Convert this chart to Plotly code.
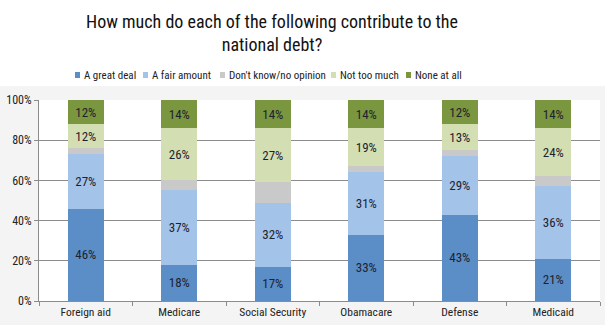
import plotly.graph_objects as go

# Survey results: share of respondents per answer, by budget item
categories = ["Foreign aid", "Medicare", "Social Security", "Obamacare", "Defense", "Medicaid"]
great_deal = [46, 18, 17, 33, 43, 21]
fair_amount = [27, 37, 32, 31, 29, 36]
dont_know = [3, 5, 10, 3, 3, 5]
not_too_much = [12, 26, 27, 19, 13, 24]
none_at_all = [12, 14, 14, 14, 12, 14]

series_names = ["A great deal", "A fair amount", "Don't know/no opinion", "Not too much", "None at all"]
series_values = [great_deal, fair_amount, dont_know, not_too_much, none_at_all]
series_colors = ["#5B8EC6", "#A4C3E8", "#C9C9C9", "#D3DFB3", "#7A963F"]
labelled = [True, True, False, True, True]

FONT = "Roboto Condensed, DejaVu Sans Condensed, sans-serif"

fig = go.Figure()
for name, vals, color, show in zip(series_names, series_values, series_colors, labelled):
    fig.add_trace(go.Bar(
        name=name,
        x=categories,
        y=vals,
        marker=dict(color=color, line=dict(width=0)),
        text=[f"{v}%" for v in vals] if show else None,
        textposition="inside" if show else "none",
        insidetextanchor="middle",
        textangle=0,
        textfont=dict(family=FONT, size=13, color="#1e2230"),
        showlegend=False,
        hoverinfo="skip",
    ))

W, H = 605, 325
ML, MR, MT, MB = 39, 5, 100, 24
ph = H - MT - MB


def py(px):
    """Convert a pixel row (from the top) to paper y."""
    return (H - MB - px) / ph


def pxx(px):
    """Convert a pixel column to paper x."""
    return (px - ML) / (W - ML - MR)


shapes = [
    # light grey band behind the plotting region
    dict(type="rect", xref="paper", yref="paper", x0=pxx(0), x1=pxx(W), y0=py(H), y1=py(86),
         fillcolor="#f4f4f4", line=dict(width=0), layer="below"),
    dict(type="rect", xref="paper", yref="paper", x0=0, x1=1, y0=0, y1=1,
         fillcolor="#ffffff", line=dict(width=0), layer="below"),
]

annotations = [
    dict(text="How much do each of the following contribute to the<br>national debt?",
         xref="paper", yref="paper", x=pxx(271.5), y=py(32.5), xanchor="center", yanchor="middle",
         showarrow=False, align="center",
         font=dict(family=FONT, size=18, color="#111111")),
]

# legend: small squares followed by labels
legend_pos = [(75, 82), (143, 150), (220, 227), (331, 338), (406, 413)]
ly = 75
for (sx, tx), name, color in zip(legend_pos, series_names, series_colors):
    shapes.append(dict(type="rect", xref="paper", yref="paper",
                       x0=pxx(sx), x1=pxx(sx + 5), y0=py(ly + 3), y1=py(ly - 3),
                       fillcolor=color, line=dict(width=0)))
    annotations.append(dict(text=name, xref="paper", yref="paper", x=pxx(tx), y=py(ly),
                            xanchor="left", yanchor="middle", showarrow=False,
                            font=dict(family=FONT, size=11, color="#222222")))

fig.update_layout(
    width=W, height=H,
    margin=dict(l=ML, r=MR, t=MT, b=MB),
    barmode="stack",
    bargap=0.615,
    paper_bgcolor="#ffffff",
    plot_bgcolor="rgba(0,0,0,0)",
    shapes=shapes,
    annotations=annotations,
    showlegend=False,
    uniformtext=dict(minsize=13, mode="show"),
)
fig.update_xaxes(
    type="category", tickson="boundaries", ticks="outside", ticklen=4, tickcolor="#8c8c8c",
    showline=True, linecolor="#8c8c8c", linewidth=1, showgrid=False,
    tickfont=dict(family=FONT, size=11.5, color="#222222"),
)
fig.update_yaxes(
    range=[0, 100], tickvals=[0, 20, 40, 60, 80, 100], ticktext=["0%", "20%", "40%", "60%", "80%", "100%"],
    ticks="outside", ticklen=4, tickcolor="#8c8c8c",
    showline=True, linecolor="#8c8c8c", linewidth=1,
    showgrid=True, gridcolor="#8c8c8c", gridwidth=1, zeroline=False,
    tickfont=dict(family=FONT, size=12, color="#222222"),
)

fig.write_html("out.html")
